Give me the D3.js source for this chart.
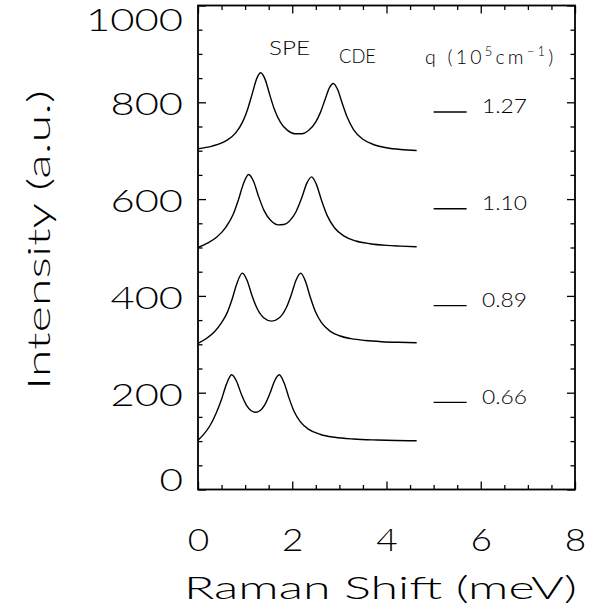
<!DOCTYPE html>
<html><head><meta charset="utf-8">
<script src="https://cdn.jsdelivr.net/npm/d3@7"></script>
<style>
body{margin:0;background:#fff;}
text{font-family:"DejaVu Sans ExtraLight","Lato Light","Roboto Light",sans-serif;font-weight:300;fill:#000;}
</style></head>
<body><svg id="c" width="600" height="612"></svg>
<script>
// Data
const xTicks = [0, 2, 4, 6, 8];
const yTicks = [0, 200, 400, 600, 800, 1000];
const qLabels = ["1.27", "1.10", "0.89", "0.66"];
const legendY = [780, 580, 380, 180];

const xQ127 = [0,0.3,0.6,0.8,0.95,1.05,1.15,1.25,1.33,1.42,1.52,1.62,1.75,1.9,2.05,2.2,2.35,2.5,2.6,2.7,2.79,2.87,2.96,3.06,3.16,3.3,3.5,3.75,4.0,4.3,4.64];
const yQ127 = [704,709.5,720.7,736.9,760.1,784.7,817.5,849.9,861.1,848.4,816.4,785.7,758.6,741.9,735.1,735.1,742.3,759.6,779.7,806.9,830.3,838.9,826.9,798.2,770.5,743.8,723.5,711.8,706.1,702.4,700.3];

const xQ110 = [0,0.2,0.4,0.6,0.75,0.86,0.96,1.076,1.18,1.28,1.4,1.55,1.7,1.82,1.95,2.08,2.2,2.31,2.41,2.51,2.62,2.74,2.9,3.1,3.35,3.65,4.0,4.3,4.64];
const yQ110 = [500,508.9,521.5,543.3,569.4,599.2,630.8,650.8,636.3,607.1,576.8,555.1,546.8,547.4,555.5,573.8,602.3,633.0,646,631.0,597.9,566.4,540.2,523.5,513.5,507.8,504.3,502.8,501.5];

const xQ089 = [0,0.2,0.35,0.5,0.62,0.72,0.82,0.94,1.04,1.14,1.25,1.4,1.56,1.72,1.87,1.98,2.08,2.18,2.28,2.38,2.49,2.62,2.8,3.0,3.25,3.55,3.9,4.25,4.64];
const yQ089 = [302,313.6,325.9,344.6,365.5,391.9,424.2,447,432.4,402.5,374.9,354.3,347.9,354.3,374.9,402.5,432.4,447,430.2,398.1,367.7,344.6,327.3,317.7,311.6,307.8,305.4,304.1,303.2];

const xQ066 = [0,0.12,0.25,0.38,0.5,0.6,0.715,0.82,0.92,1.03,1.13,1.22,1.32,1.42,1.53,1.62,1.725,1.83,1.93,2.04,2.17,2.35,2.6,2.9,3.3,3.8,4.2,4.64];
const yQ066 = [102,113.9,131.2,156.5,186.4,216.7,237,223.2,196.7,173.8,162.6,159.5,163.3,175.4,199.3,223.2,237,219.6,189.3,161.3,140.1,124.1,113.7,107.9,104.3,102.3,101.3,100.7];

const series = [
  {xs: xQ127, ys: yQ127},
  {xs: xQ110, ys: yQ110},
  {xs: xQ089, ys: yQ089},
  {xs: xQ066, ys: yQ066}
];

const L = 198, R = 575, T = 5.5, B = 489.5;
const x = d3.scaleLinear().domain([0, 8]).range([L, R]);
const y = d3.scaleLinear().domain([0, 1000]).range([B, T]);
const svg = d3.select("#c");

const minorX = d3.range(0, 8.01, 0.5).filter(v => v % 2 !== 0);
const minorY = d3.range(0, 1001, 50).filter(v => v % 200 !== 0);
const CH = 24.5; // char cell width for tick labels

function styleAxis(g){
  g.select(".domain").remove();
  g.selectAll("line").attr("stroke","#000").attr("stroke-width",1.3);
}
// bottom
svg.append("g").attr("transform",`translate(0,${B})`)
  .call(d3.axisBottom(x).tickValues(xTicks).tickSize(-8).tickPadding(61).tickFormat(d3.format("d")))
  .call(styleAxis)
  .call(g=>g.selectAll("text").attr("font-size",31).attr("dy",0)
     .attr("textLength",d=>String(d).length*CH-3).attr("lengthAdjust","spacingAndGlyphs"));
svg.append("g").attr("transform",`translate(0,${B})`)
  .call(d3.axisBottom(x).tickValues(minorX).tickSize(-4.5).tickFormat(""))
  .call(styleAxis);
// top
svg.append("g").attr("transform",`translate(0,${T})`)
  .call(d3.axisTop(x).tickValues(xTicks).tickSize(-8).tickFormat(""))
  .call(styleAxis);
svg.append("g").attr("transform",`translate(0,${T})`)
  .call(d3.axisTop(x).tickValues(minorX).tickSize(-4.5).tickFormat(""))
  .call(styleAxis);
// left
const yShift = d => d === 1000 ? 14 : (d === 0 ? -10 : 1.5);
svg.append("g").attr("transform",`translate(${L},0)`)
  .call(d3.axisLeft(y).tickValues(yTicks).tickSize(-8).tickPadding(15).tickFormat(d3.format("d")))
  .call(styleAxis)
  .call(g=>g.selectAll("text").attr("font-size",31).attr("dy","0.36em")
     .attr("y",d=>yShift(d))
     .attr("textLength",d=>String(d).length*CH-1).attr("lengthAdjust","spacingAndGlyphs"));
svg.append("g").attr("transform",`translate(${L},0)`)
  .call(d3.axisLeft(y).tickValues(minorY).tickSize(-4.5).tickFormat(""))
  .call(styleAxis);
// right
svg.append("g").attr("transform",`translate(${R},0)`)
  .call(d3.axisRight(y).tickValues(yTicks).tickSize(-8).tickFormat(""))
  .call(styleAxis);
svg.append("g").attr("transform",`translate(${R},0)`)
  .call(d3.axisRight(y).tickValues(minorY).tickSize(-4.5).tickFormat(""))
  .call(styleAxis);

// frame
svg.append("rect").attr("x",L).attr("y",T).attr("width",R-L).attr("height",B-T)
  .attr("fill","none").attr("stroke","#000").attr("stroke-width",1.8);

// curves
const line = d3.line().x((d)=>x(d[0])).y((d)=>y(d[1])).curve(d3.curveMonotoneX);
series.forEach(s=>{
  const pts = s.xs.map((v,i)=>[v, s.ys[i]]);
  svg.append("path").datum(pts).attr("d", line)
    .attr("fill","none").attr("stroke","#000").attr("stroke-width",1.4);
});

// legend
qLabels.forEach((lab,i)=>{
  svg.append("line").attr("x1",x(5.0)).attr("x2",x(5.7))
    .attr("y1",y(legendY[i])).attr("y2",y(legendY[i]))
    .attr("stroke","#000").attr("stroke-width",1.4);
  svg.append("text").attr("x",482).attr("y",y(legendY[i])+1.5)
    .attr("font-size",19.5).attr("textLength",45).attr("lengthAdjust","spacingAndGlyphs").text(lab);
});

// annotations
svg.append("text").attr("x",269).attr("y",55)
  .attr("font-size",20).attr("textLength",41).attr("lengthAdjust","spacingAndGlyphs").text("SPE");
svg.append("text").attr("x",339).attr("y",63)
  .attr("font-size",20).attr("textLength",37).attr("lengthAdjust","spacingAndGlyphs").text("CDE");
const qt = svg.append("text").attr("x",425).attr("y",64).attr("font-size",19.5).attr("letter-spacing",3.2);
qt.append("tspan").text("q (10");
qt.append("tspan").attr("font-size",13).attr("dy",-8).text("5");
qt.append("tspan").attr("dy",8).text("cm");
qt.append("tspan").attr("font-size",13).attr("dy",-8).text("−1");
qt.append("tspan").attr("dy",8).text(")");

// axis titles
svg.append("text").attr("x",184).attr("y",599)
  .attr("font-size",31).attr("textLength",393).attr("lengthAdjust","spacingAndGlyphs").text("Raman Shift (meV)");
svg.append("text").attr("transform",`translate(50,240) rotate(-90)`)
  .attr("text-anchor","middle").attr("font-size",31)
  .attr("textLength",300).attr("lengthAdjust","spacingAndGlyphs").text("Intensity (a.u.)");
</script></body></html>
